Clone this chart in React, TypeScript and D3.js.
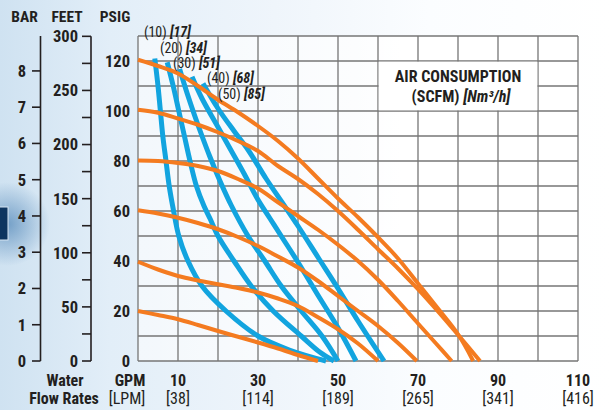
import React from "react";
import * as d3 from "d3";

type Pt = [number, number];

// GPM vs PSIG — orange: inlet air pressure curves
const pressure120: Pt[] = [[0,120.5],[5,118],[10,115],[15,110],[20,104.5],[25,99.5],[30,94],[35,88],[40,81],[45,73],[50,65],[55,57.5],[60,49.5],[65,41],[70,31],[75,21],[80,10.7],[83.8,0]];
const pressure100: Pt[] = [[0,100.5],[5,99.3],[10,97],[15,94.5],[20,91.5],[25,88],[30,84],[35,78],[40,72.8],[45,66.8],[50,60],[55,52.5],[60,44.7],[65,37],[70,28.7],[75,19.8],[80,10.5],[85.5,0]];
const pressure80: Pt[] = [[0,80.2],[5,80],[10,79.2],[15,78],[20,76],[25,72.8],[30,69],[35,63.5],[40,58],[45,52.5],[50,46.5],[55,40],[60,32.5],[65,24],[70,15],[74.5,7],[78.4,0]];
const pressure60: Pt[] = [[0,60.3],[5,59],[10,57.3],[15,55.2],[20,52.7],[25,49.6],[30,46],[35,41.8],[40,37.4],[45,32],[50,26],[55,20],[60,14],[65,7.2],[69.7,0]];
const pressure40: Pt[] = [[0,39.7],[5,36.6],[10,34],[15,32.2],[20,30.7],[25,29.2],[30,27.4],[35,25],[40,22],[45,17.5],[50,12.7],[55,7],[60,0]];
const pressure20: Pt[] = [[0,20],[5,18.4],[10,16.7],[15,14.4],[20,12],[25,9.7],[30,7.4],[35,5],[40,2.4],[45,0]];

// blue: air consumption curves (SCFM)
const air10: Pt[] = [[4.2,121],[5,110],[5.6,100],[6.2,90],[7,80],[7.8,70],[8.9,60],[10.2,50],[12.5,40],[16,30],[22,20],[30,10],[38,4.3],[47,0]];
const air20: Pt[] = [[7.3,119.5],[8.8,110],[10.2,100],[11.6,90],[13,80],[14.6,70],[16.5,62],[18,57],[20,50],[24,40],[28.3,30],[33.8,20],[40.8,10],[45.5,3.5],[49,0]];
const air30: Pt[] = [[10.4,116.8],[12.3,107],[14.2,98],[16,90],[17.9,82],[20.5,72],[23.3,62.3],[27.5,50],[31.7,40],[35.8,30],[40.8,20],[46,10],[50,0]];
const air40: Pt[] = [[13.5,113.7],[16,105],[19.5,95],[23,85],[26.5,75],[30,64.5],[33,57],[36,49.5],[40,39.5],[45,26.3],[50,13.3],[54.5,0]];
const air50: Pt[] = [[16.25,111],[20,101],[24,92],[27.5,84.5],[32,73],[36,63.5],[40,54],[45,41.5],[50,29],[55,16],[61.5,0]];

const airLabels = ["(10)", "(20)", "(30)", "(40)", "(50)"];
const airMetric = ["[17]", "[34]", "[51]", "[68]", "[85]"];

const gpmTicks = [10, 30, 50, 70, 90, 110];
const lpmLabels = ["[38]", "[114]", "[189]", "[265]", "[341]", "[416]"];
const psigTicks = [0, 20, 40, 60, 80, 100, 120];
const feetTicks = [0, 25, 50, 75, 100, 125, 150, 175, 200, 225, 250, 275, 300];
const barTicks = [0, 1, 2, 3, 4, 5, 6, 7, 8];

const FONT = "'Liberation Sans Narrow', 'Arial Narrow', 'Roboto Condensed', 'DejaVu Sans Condensed', sans-serif";
const ORANGE = "#F47B20";
const BLUE = "#12A4DF";
const INK = "#231F20";
const GRID = "#767676";

export default function App() {
  const x = d3.scaleLinear().domain([0, 110]).range([138, 578]);
  const y = d3.scaleLinear().domain([0, 130]).range([361, 36]);
  const yFeet = (ft: number) => y(ft / 2.31);
  const yBar = (b: number) => y(b * 14.5038);
  const line = d3
    .line<Pt>()
    .x((d) => x(d[0]))
    .y((d) => y(d[1]))
    .curve(d3.curveCatmullRom.alpha(0.5));

  const pressures = [pressure20, pressure40, pressure60, pressure80, pressure100, pressure120];
  const airs = [air10, air20, air30, air40, air50];
  const labelPos: Pt[] = [[144, 32], [160, 48.5], [173, 63.5], [207, 78.5], [218, 94.5]];

  const xGrid = d3.range(0, 111, 10);
  const yGrid = d3.range(0, 131, 10);

  return (
    <div style={{ position: "absolute", left: 0, top: 0 }}>
      <svg width={611} height={410} style={{ display: "block" }} fontFamily={FONT}>
        <defs>
          <linearGradient id="bg" x1="0" y1="0" x2="1" y2="0">
            <stop offset="0" stopColor="#cfe2f1" />
            <stop offset="0.18" stopColor="#e2eef8" />
            <stop offset="0.45" stopColor="#eff5fb" />
            <stop offset="0.7" stopColor="#fbfdff" />
            <stop offset="1" stopColor="#ffffff" />
          </linearGradient>
          <radialGradient id="glow" cx="0.5" cy="0.5" r="0.5">
            <stop offset="0" stopColor="#2a6aa6" stopOpacity="0.55" />
            <stop offset="1" stopColor="#2a6aa6" stopOpacity="0" />
          </radialGradient>
          <linearGradient id="plotbg" x1="0" y1="0" x2="1" y2="0">
            <stop offset="0" stopColor="#ffffff" stopOpacity="0.55" />
            <stop offset="0.5" stopColor="#ffffff" stopOpacity="0.7" />
            <stop offset="0.6" stopColor="#ffffff" stopOpacity="1" />
            <stop offset="1" stopColor="#ffffff" stopOpacity="1" />
          </linearGradient>
        </defs>
        <rect x={0} y={0} width={611} height={410} fill="url(#bg)" />
        <ellipse cx={8} cy={224} rx={42} ry={42} fill="url(#glow)" />
        <rect x={-3} y={207} width={11} height={33} fill="#0d3560" stroke="#d6e6f3" strokeWidth={1} />

        {/* plot background */}
        <rect x={x(0)} y={y(130)} width={x(110) - x(0)} height={y(0) - y(130)} fill="url(#plotbg)" />

        {/* grid */}
        {xGrid.map((g) => (
          <line key={"gx" + g} x1={x(g)} x2={x(g)} y1={y(0)} y2={y(130)} stroke={GRID} strokeWidth={1.3} />
        ))}
        {yGrid.map((g) => (
          <line key={"gy" + g} x1={x(0)} x2={x(110)} y1={y(g)} y2={y(g)} stroke={GRID} strokeWidth={1.3} />
        ))}
        <rect x={x(60) + 0.7} y={y(120) + 0.7} width={x(100) - x(60) - 1.4} height={y(100) - y(120) - 1.4} fill="#ffffff" />
        <text x={458} y={82} textAnchor="middle" fontSize={16} fontWeight="bold" fill={INK}>AIR CONSUMPTION</text>
        <text x={461} y={102} textAnchor="middle" fontSize={16} fontWeight="bold" fill={INK}>
          (SCFM) <tspan fontStyle="italic">[Nm³/h]</tspan>
        </text>

        {/* curves */}
        {airs.map((a, i) => (
          <path key={"a" + i} d={line(a) || ""} fill="none" stroke={BLUE} strokeWidth={5} />
        ))}
        {pressures.map((p, i) => (
          <path key={"p" + i} d={line(p) || ""} fill="none" stroke={ORANGE} strokeWidth={4} />
        ))}

        {/* curve labels */}
        {airLabels.map((l, i) => (
          <text key={"al" + i} x={labelPos[i][0]} y={labelPos[i][1]} dy="0.35em" fontSize={14} fill={INK}>
            {l} <tspan fontWeight="bold" fontStyle="italic">{airMetric[i]}</tspan>
          </text>
        ))}

        {/* headers */}
        <text x={24.5} y={22} textAnchor="middle" fontSize={15.5} fontWeight="bold" fill={INK}>BAR</text>
        <text x={67} y={22} textAnchor="middle" fontSize={15.5} fontWeight="bold" fill={INK}>FEET</text>
        <text x={115} y={22} textAnchor="middle" fontSize={15.5} fontWeight="bold" fill={INK}>PSIG</text>

        {/* BAR axis */}
        <line x1={40.5} x2={40.5} y1={y(0)} y2={y(130)} stroke={INK} strokeWidth={1.6} />
        {barTicks.map((b) => (
          <g key={"b" + b}>
            <line x1={32} x2={40.5} y1={yBar(b)} y2={yBar(b)} stroke={INK} strokeWidth={1.6} />
            <text x={26} y={yBar(b)} dy="0.36em" textAnchor="end" fontSize={16.5} fontWeight="bold" fill={INK}>{b}</text>
          </g>
        ))}

        {/* FEET axis */}
        <line x1={91} x2={91} y1={yFeet(0)} y2={yFeet(300)} stroke={INK} strokeWidth={1.6} />
        {feetTicks.map((f) => (
          <g key={"f" + f}>
            <line x1={82} x2={91} y1={yFeet(f)} y2={yFeet(f)} stroke={INK} strokeWidth={1.6} />
            {f % 50 === 0 && (
              <text x={78} y={yFeet(f)} dy="0.36em" textAnchor="end" fontSize={16.5} fontWeight="bold" fill={INK}>{f}</text>
            )}
          </g>
        ))}

        {/* PSIG labels */}
        {psigTicks.map((p) => (
          <text key={"p" + p} x={130} y={y(p)} dy="0.36em" textAnchor="end" fontSize={16.5} fontWeight="bold" fill={INK}>{p}</text>
        ))}

        {/* bottom labels */}
        <text x={65} y={380} dy="0.36em" textAnchor="middle" fontSize={16} fontWeight="bold" fill={INK}>Water</text>
        <text x={64} y={398} dy="0.36em" textAnchor="middle" fontSize={16} fontWeight="bold" fill={INK}>Flow Rates</text>
        <text x={130} y={380} dy="0.36em" textAnchor="middle" fontSize={16} fontWeight="bold" fill={INK}>GPM</text>
        <text x={127} y={398} dy="0.36em" textAnchor="middle" fontSize={16} fill={INK}>[LPM]</text>
        {gpmTicks.map((g, i) => (
          <g key={"g" + g}>
            <text x={x(g)} y={380} dy="0.36em" textAnchor="middle" fontSize={16} fontWeight="bold" fill={INK}>{g}</text>
            <text x={x(g)} y={398} dy="0.36em" textAnchor="middle" fontSize={16} fill={INK}>{lpmLabels[i]}</text>
          </g>
        ))}
      </svg>
    </div>
  );
}
